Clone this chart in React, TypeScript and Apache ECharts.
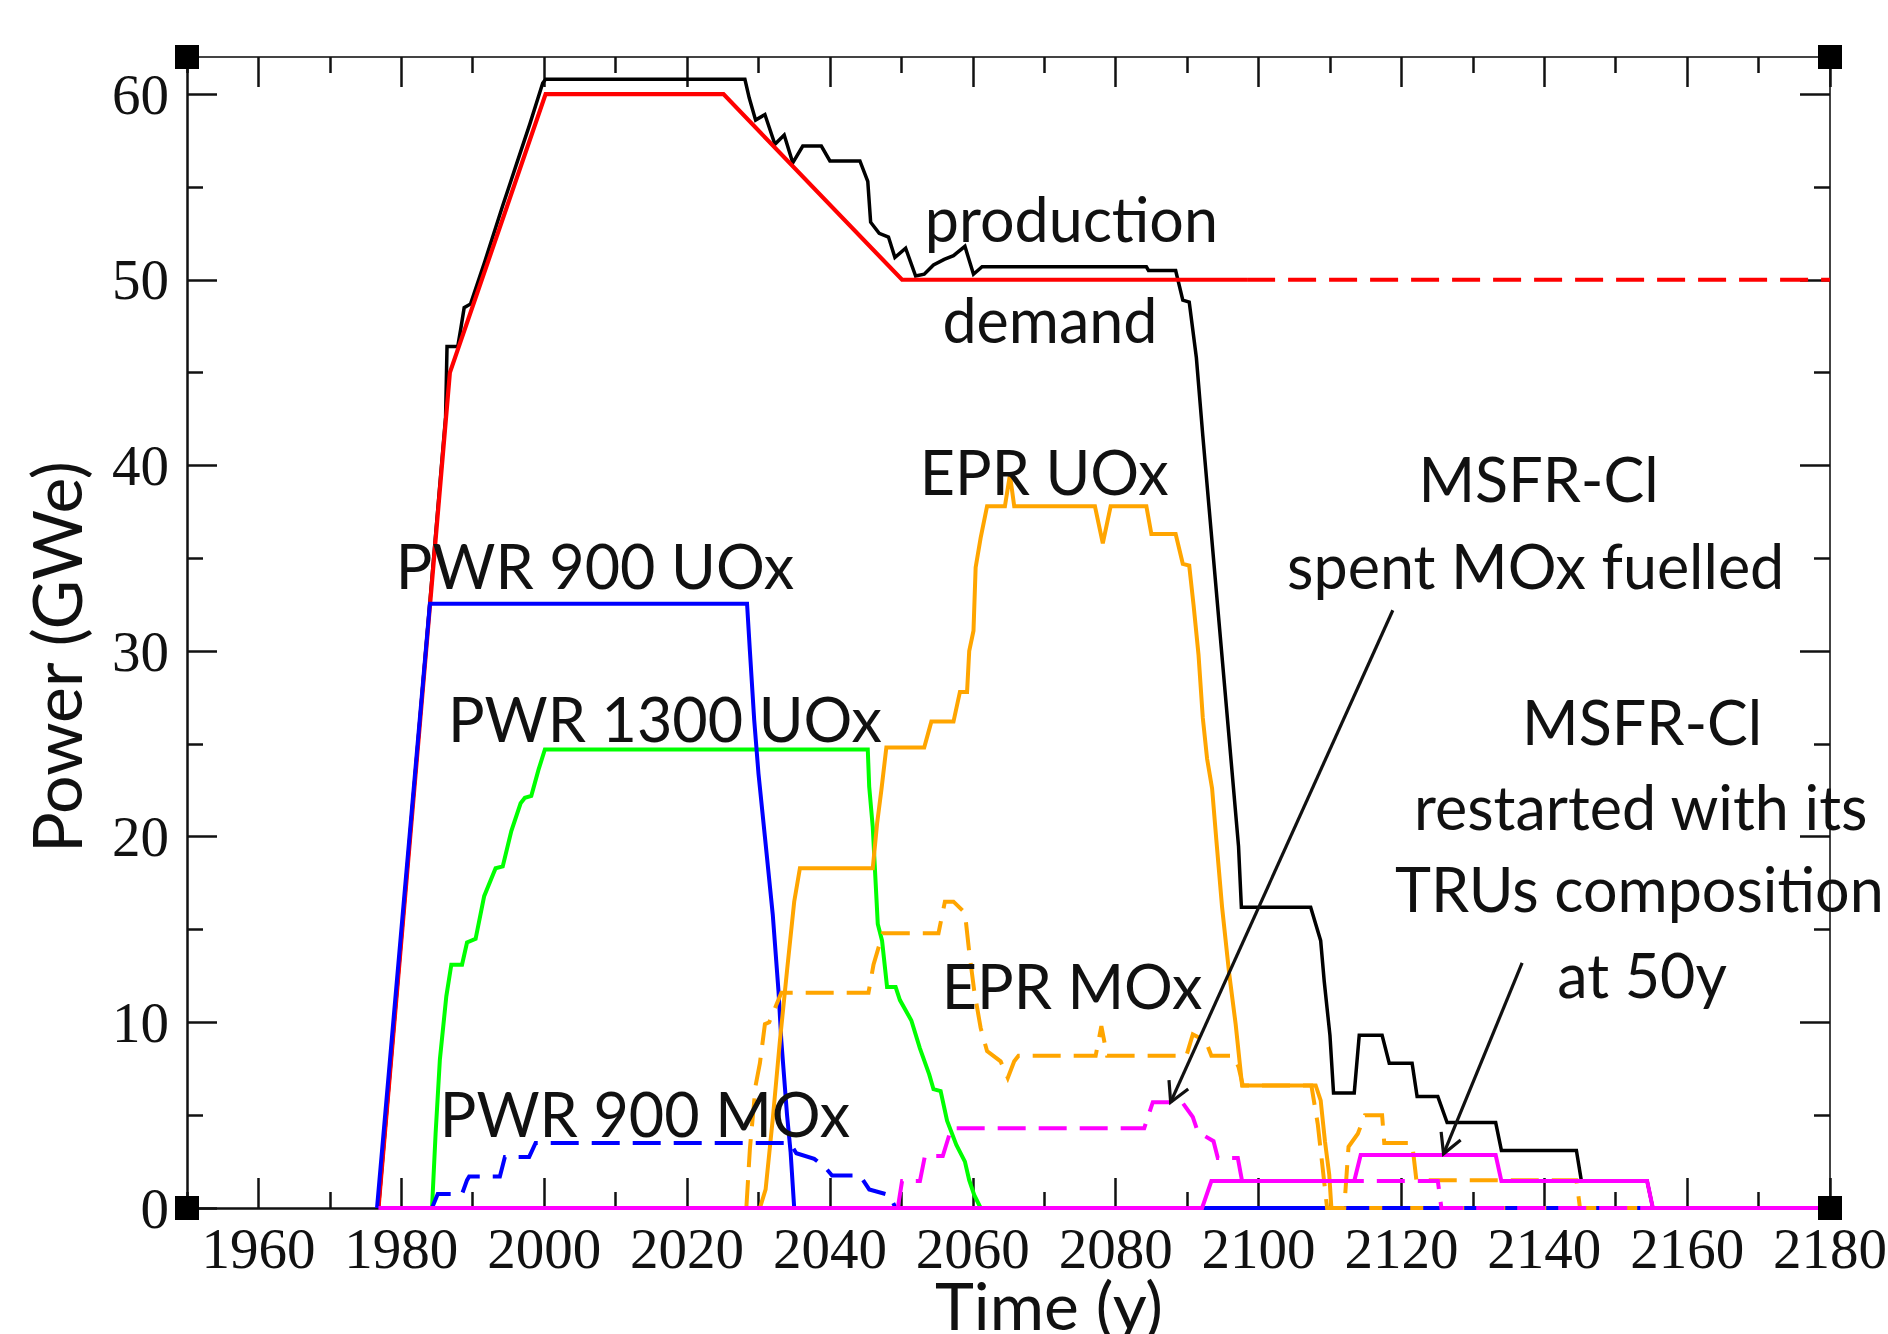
import React, { useEffect, useRef } from "react";
import * as echarts from "echarts";

type P = [number, number];

const production: P[] = [
  [1976.8, 0], [1986.2, 42.6], [1986.4, 46.4], [1987.9, 46.4], [1988.3, 47.3], [1988.8, 48.5], [1989.7, 48.7],
  [1991.7, 51], [1994.2, 54], [1996.1, 56.2], [1998, 58.4], [1999.8, 60.6], [2000.2, 60.8], [2028.1, 60.8],
  [2028.7, 59.8], [2029.6, 58.6], [2030.9, 58.9], [2032.3, 57.3], [2033.6, 57.8], [2034.8, 56.3], [2036.2, 57.2],
  [2038.8, 57.2], [2040, 56.4], [2044.2, 56.4], [2045.3, 55.3], [2045.7, 53.1], [2046.9, 52.5], [2048.2, 52.3],
  [2049.1, 51.2], [2050.6, 51.7], [2052, 50.2], [2053.2, 50.3], [2054.5, 50.8], [2056, 51.1], [2057.3, 51.3],
  [2058.9, 51.8], [2060.1, 50.3], [2061.3, 50.7], [2084.3, 50.7], [2084.6, 50.5], [2088.4, 50.5], [2089.4, 48.9],
  [2090.3, 48.8], [2091.3, 45.8], [2092.2, 41.6], [2097.2, 19.5], [2097.6, 16.2], [2107.3, 16.2], [2108.7, 14.4],
  [2109.2, 12.2], [2110, 9.3], [2110.5, 6.2], [2113.4, 6.2], [2114.1, 9.3], [2117.3, 9.3], [2118.3, 7.8],
  [2121.5, 7.8], [2122.2, 6.0], [2125.1, 6.0], [2126.4, 4.6], [2133.2, 4.6], [2134, 3.1], [2144.5, 3.1],
  [2145.2, 1.45], [2154.4, 1.45], [2155.2, 0], [2180, 0],
];

const demand: P[] = [[1976.8, 0], [1986.8, 45], [2000.2, 60], [2025.1, 60], [2050.1, 50], [2098.4, 50]];
const demandProjected: P[] = [[2098.4, 50], [2180, 50]];

const pwr900UOx: P[] = [
  [1976.6, 0], [1984.0, 32.55], [2028.4, 32.55], [2028.8, 30], [2029.4, 26.3], [2030, 23.4], [2030.9, 20],
  [2032, 15.8], [2032.8, 11.7], [2033.2, 9], [2034, 5], [2034.5, 3], [2035, 0], [2180, 0],
];

const pwr1300UOx: P[] = [
  [1984.3, 0], [1984.8, 4], [1985.4, 8], [1986.3, 11.4], [1987, 13.1], [1988.5, 13.1], [1989.2, 14.3],
  [1990.4, 14.5], [1991.6, 16.8], [1993.2, 18.3], [1994.2, 18.4], [1995.4, 20.3], [1996.7, 21.8], [1997.3, 22.1],
  [1998.2, 22.2], [1999.2, 23.6], [2000.1, 24.7], [2045.3, 24.7], [2045.5, 22.7], [2046, 20.5], [2046.7, 15.3],
  [2047.3, 14.4], [2048, 11.9], [2049.2, 11.9], [2049.8, 11.2], [2051.4, 10.1], [2052.6, 8.6], [2053.9, 7.2],
  [2054.5, 6.4], [2055.5, 6.3], [2056.4, 4.7], [2057.7, 3.4], [2058.9, 2.5], [2059.5, 1.5], [2060.2, 0.7],
  [2061.1, 0], [2180, 0],
];

const eprUOx: P[] = [
  [2030.2, 0], [2031, 1], [2032, 4.8], [2033, 9], [2034, 12.8], [2035, 16.5], [2035.8, 18.3], [2046, 18.3],
  [2046.6, 20.7], [2047.2, 22.5], [2047.9, 24.8], [2053.2, 24.8], [2054.2, 26.2], [2057.3, 26.2], [2058.2, 27.8],
  [2059.2, 27.8], [2059.5, 30], [2060.1, 31.1], [2060.4, 34.5], [2061.1, 36.1], [2062, 37.8], [2064.5, 37.8],
  [2065.2, 39.5], [2065.8, 37.8], [2077.1, 37.8], [2078.2, 35.8], [2079.3, 37.8], [2084.3, 37.8], [2085, 36.3],
  [2088.4, 36.3], [2089.4, 34.7], [2090.3, 34.6], [2090.9, 32.5], [2091.6, 29.8], [2092.2, 26.4], [2092.8, 24.2],
  [2093.5, 22.6], [2094.1, 19.8], [2094.9, 16.2], [2095.9, 12.6], [2096.8, 9.9], [2097.7, 6.6], [2108, 6.6],
  [2108.7, 5.8], [2109.3, 3.6], [2109.9, 1.8], [2110.2, 0], [2180, 0],
];

const pwr900MOx: P[] = [
  [1984.3, 0], [1985.1, 0.75], [1988.5, 0.75], [1989.2, 1.5], [1989.5, 1.7], [1993.8, 1.7], [1994.5, 2.75],
  [1997.9, 2.75], [1998.8, 3.5], [2034.4, 3.5], [2035.3, 2.95], [2037.8, 2.65], [2039.3, 2.2], [2040.3, 1.75],
  [2044.2, 1.75], [2045.5, 1.0], [2048.3, 0.7], [2049.2, 0], [2180, 0],
];

const eprMOx: P[] = [
  [2028.3, 0], [2028.8, 3.2], [2029.6, 6.6], [2030.2, 7.8], [2030.9, 9.9], [2031.5, 10], [2033.2, 11.6],
  [2045.4, 11.6], [2046.1, 13.1], [2047.4, 14.8], [2055.2, 14.8], [2056.1, 16.5], [2057.3, 16.5], [2058.9, 15.9],
  [2059.5, 13.8], [2060.2, 11.7], [2061.1, 9.7], [2062, 8.45], [2063.9, 7.9], [2064.9, 7.0], [2065.8, 7.9],
  [2066.4, 8.2], [2077.2, 8.2], [2078, 9.8], [2078.8, 8.2], [2089.9, 8.2], [2090.8, 9.35], [2092.6, 9.0],
  [2093.4, 8.2], [2096.5, 8.2], [2097.2, 7.6], [2097.8, 6.6], [2107.4, 6.6], [2108.3, 4.5], [2109.6, 0],
  [2112, 0], [2112.6, 3.3], [2113.9, 4.0], [2114.9, 5.0], [2117.3, 5.0], [2117.6, 3.5], [2121.5, 3.5],
  [2121.8, 2.5], [2122.1, 1.5], [2144.5, 1.5], [2145, 0], [2180, 0],
];

const msfrSpentMOx: P[] = [
  [2049.5, 0], [2050.1, 1.45], [2052.6, 1.45], [2053.3, 2.8], [2055.8, 2.8], [2057, 4.3], [2084, 4.3],
  [2085.2, 5.7], [2089.3, 5.7], [2090.8, 4.9], [2091.5, 4.1], [2093.7, 3.6], [2094.3, 2.7], [2097.1, 2.7],
  [2097.7, 1.45], [2125.1, 1.45], [2125.6, 0], [2180, 0],
];

const msfrRestarted: P[] = [
  [1976.8, 0], [2092.1, 0], [2093.4, 1.45], [2113.4, 1.45], [2114.3, 2.85], [2133.2, 2.85], [2134, 1.45],
  [2154.4, 1.45], [2155.2, 0], [2180, 0],
];

const majorYears = [1960, 1980, 2000, 2020, 2040, 2060, 2080, 2100, 2120, 2140, 2160, 2180];
const minorYears = [1950, 1970, 1990, 2010, 2030, 2050, 2070, 2090, 2110, 2130, 2150, 2170];
const majorPower = [0, 10, 20, 30, 40, 50, 60];
const minorPower = [5, 15, 25, 35, 45, 55];

const annotationTexts = [
  "production", "demand", "EPR UOx", "MSFR-Cl", "spent MOx fuelled", "PWR 900 UOx", "PWR 1300 UOx",
  "MSFR-Cl", "restarted with its", "TRUs composition", "at 50y", "EPR MOx", "PWR 900 MOx",
];
const annotationYears = [2073.8, 2070.8, 2070.0, 2139.2, 2138.8, 2007.1, 2016.9, 2153.7, 2153.5, 2153.3, 2153.7, 2073.9, 2014.1];
// baseline values of each text line
const annotationValues = [52.19, 46.8, 38.6, 38.2, 33.54, 33.53, 25.27, 25.1, 20.54, 16.15, 11.5, 10.88, 4.03];

const arrowStarts: P[] = [[2118.8, 32.2], [2136.9, 13.2]];
const arrowEnds: P[] = [[2087.7, 5.7], [2125.9, 2.92]];

const SANS = "Lato, 'Open Sans', sans-serif";
const SERIF = "'Liberation Serif', 'DejaVu Serif', serif";
const LABEL_SIZE = 61;
const TICK_SIZE = 57;

function lineSeries(name: string, data: P[], color: string, width: number, dashed = false) {
  return {
    type: "line",
    name,
    data,
    xAxisIndex: 0,
    yAxisIndex: 0,
    showSymbol: false,
    symbol: "none",
    silent: true,
    lineStyle: { color, width, type: dashed ? [28, 13] : "solid", cap: "butt", join: "miter" },
    itemStyle: { color },
  };
}

const plainNumber = (v: number) => String(Math.round(v));

function xAxisCfg(position: string, values: number[], len: number, showLine: boolean, showLabels: boolean) {
  return {
    type: "value",
    min: 1950,
    max: 2180,
    interval: 10,
    position,
    gridIndex: 0,
    axisLine: { show: showLine, onZero: false, lineStyle: { color: position === "bottom" ? "#111" : "#444", width: position === "bottom" ? 2.5 : 2 } },
    axisTick: { show: true, inside: true, length: len, customValues: values, lineStyle: { color: "#111", width: 2.5 } },
    axisLabel: showLabels
      ? { show: true, customValues: values, formatter: plainNumber, fontFamily: SERIF, fontSize: TICK_SIZE, color: "#111", margin: 12 }
      : { show: false },
    splitLine: { show: false },
  };
}

function yAxisCfg(position: string, values: number[], len: number, showLine: boolean, showLabels: boolean) {
  return {
    type: "value",
    min: 0,
    max: 62,
    interval: 10,
    position,
    gridIndex: 0,
    axisLine: { show: showLine, onZero: false, lineStyle: { color: position === "left" ? "#111" : "#444", width: position === "left" ? 2.5 : 2 } },
    axisTick: { show: true, inside: true, length: len, customValues: values, lineStyle: { color: "#111", width: 2.5 } },
    axisLabel: showLabels
      ? { show: true, customValues: values, formatter: plainNumber, fontFamily: SERIF, fontSize: TICK_SIZE, color: "#111", margin: 18 }
      : { show: false },
    splitLine: { show: false },
  };
}

export default function App() {
  const ref = useRef<HTMLDivElement>(null);
  useEffect(() => {
    if (!ref.current) return;
    const chart = echarts.init(ref.current, undefined, { renderer: "svg" });
    const gl = 187, gt = 57, gw = 1643, gh = 1151;
    const corner = 24;
    const corners = [
      [gl, gt], [gl + gw, gt], [gl, gt + gh], [gl + gw, gt + gh],
    ].map(([cx, cy]) => ({
      type: "rect",
      shape: { x: cx - corner / 2, y: cy - corner / 2, width: corner, height: corner },
      style: { fill: "#000" },
      z: 100,
    }));
    const option: any = {
      animation: false,
      backgroundColor: "#fff",
      grid: { left: gl, top: gt, width: gw, height: gh, containLabel: false, outerBoundsMode: "none" },
      xAxis: [
        xAxisCfg("bottom", majorYears, 30, true, true),
        xAxisCfg("bottom", minorYears, 16, false, false),
        xAxisCfg("top", majorYears, 30, true, false),
        xAxisCfg("top", minorYears, 16, false, false),
      ],
      yAxis: [
        yAxisCfg("left", majorPower, 30, true, true),
        yAxisCfg("left", minorPower, 16, false, false),
        yAxisCfg("right", majorPower, 30, true, false),
        yAxisCfg("right", minorPower, 16, false, false),
      ],
      series: [
        lineSeries("production", production, "#000000", 3.5),
        lineSeries("demand", demand, "#ff0000", 4.2),
        lineSeries("demand projected", demandProjected, "#ff0000", 4.2, true),
        lineSeries("PWR 1300 UOx", pwr1300UOx, "#00ff00", 4),
        lineSeries("PWR 900 UOx", pwr900UOx, "#0000ff", 4),
        lineSeries("EPR UOx", eprUOx, "#ffa500", 4),
        lineSeries("PWR 900 MOx", pwr900MOx, "#0000ff", 4, true),
        lineSeries("EPR MOx", eprMOx, "#ffa500", 4, true),
        lineSeries("MSFR-Cl spent MOx fuelled", msfrSpentMOx, "#ff00ff", 4, true),
        lineSeries("MSFR-Cl restarted", msfrRestarted, "#ff00ff", 4),
        {
          type: "custom",
          name: "arrows",
          xAxisIndex: 0,
          yAxisIndex: 0,
          silent: true,
          clip: false,
          z: 20,
          data: arrowStarts.map((s, i) => [s[0], s[1], arrowEnds[i][0], arrowEnds[i][1]]),
          renderItem: (_params: any, api: any) => {
            const s = api.coord([api.value(0), api.value(1)]);
            const e = api.coord([api.value(2), api.value(3)]);
            const ang = Math.atan2(e[1] - s[1], e[0] - s[0]);
            const L = 22, a = 0.5;
            const h1 = [e[0] - L * Math.cos(ang - a), e[1] - L * Math.sin(ang - a)];
            const h2 = [e[0] - L * Math.cos(ang + a), e[1] - L * Math.sin(ang + a)];
            return {
              type: "group",
              children: [
                { type: "line", shape: { x1: s[0], y1: s[1], x2: e[0], y2: e[1] }, style: { stroke: "#111", lineWidth: 3.2 } },
                { type: "polyline", shape: { points: [h1, e, h2] }, style: { stroke: "#111", lineWidth: 3.2, fill: null } },
              ],
            };
          },
        },
        {
          type: "custom",
          name: "annotations",
          xAxisIndex: 0,
          yAxisIndex: 0,
          silent: true,
          clip: false,
          z: 30,
          data: annotationYears.map((y, i) => [y, annotationValues[i]]),
          renderItem: (params: any, api: any) => {
            const p = api.coord([api.value(0), api.value(1)]);
            return {
              type: "text",
              x: p[0],
              y: p[1] - LABEL_SIZE * 0.33,
              style: {
                text: annotationTexts[params.dataIndex],
                fontFamily: SANS,
                fontSize: LABEL_SIZE,
                fill: "#111",
                align: "center",
                verticalAlign: "middle",
              },
            };
          },
        },
      ],
      graphic: [
        {
          type: "text",
          x: 1049,
          y: 1304,
          style: { text: "Time (y)", fontFamily: SANS, fontSize: 66, fill: "#111", align: "center", verticalAlign: "middle" },
          z: 50,
        },
        {
          type: "text",
          x: 55,
          y: 657,
          rotation: Math.PI / 2,
          style: { text: "Power (GWe)", fontFamily: SANS, fontSize: 68, fill: "#111", align: "center", verticalAlign: "middle" },
          z: 50,
        },
        ...corners,
      ],
    };
    chart.setOption(option);
    return () => chart.dispose();
  }, []);
  return (
    <div
      ref={ref}
      style={{ position: "fixed", left: 0, top: 0, width: 1888, height: 1334, background: "#fff" }}
    />
  );
}
